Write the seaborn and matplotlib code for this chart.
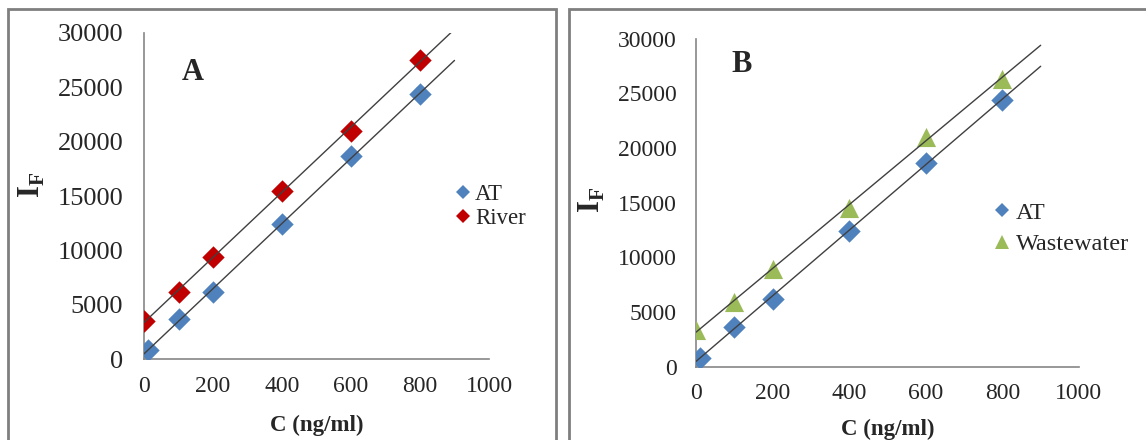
import numpy as np
import pandas as pd
import seaborn as sns
import matplotlib
matplotlib.use('Agg')
import matplotlib.pyplot as plt
from matplotlib.lines import Line2D
from matplotlib.patches import Rectangle

# values
conc_at = [10, 100, 200, 400, 600, 800]
if_at = [825, 3650, 6200, 12430, 18650, 24420]
conc_spiked = [0, 100, 200, 400, 600, 800]
if_river = [3500, 6200, 9400, 15500, 21000, 27550]
if_waste = [3350, 5950, 8900, 14550, 21050, 26350]
err_at = [300, 300, 300, 400, 500, 500]

x_ticks = [0, 200, 400, 600, 800, 1000]
y_ticks = [0, 5000, 10000, 15000, 20000, 25000, 30000]

blue = '#4F81BD'
red = '#C00000'
green = '#9BBB59'
fitcol = '#404040'
spinecol = '#868686'

sns.set_style('white')
plt.rcParams['font.family'] = ['Liberation Serif', 'DejaVu Serif']
plt.rcParams['mathtext.fontset'] = 'custom'
plt.rcParams['mathtext.rm'] = 'Liberation Serif'
plt.rcParams['mathtext.bf'] = 'Liberation Serif:bold'

fig = plt.figure(figsize=(11.46, 4.4), dpi=100)
axA = fig.add_axes([0.1257, 0.184, 0.301, 0.741])
axB = fig.add_axes([0.6073, 0.1666, 0.3342, 0.7455])

# panel frames like the Excel chart areas
for x0, x1 in [(0.007, 0.4852), (0.4965, 1.05)]:
    fig.add_artist(Rectangle((x0, -0.05), x1 - x0, 0.9795 + 0.05,
                             transform=fig.transFigure, fill=False,
                             edgecolor='#7f7f7f', linewidth=2, clip_on=False))

df_at = pd.DataFrame({'C': conc_at, 'If': if_at})
df_river = pd.DataFrame({'C': conc_spiked, 'If': if_river})
df_waste = pd.DataFrame({'C': conc_spiked, 'If': if_waste})


def fit_line(ax, df):
    k, b = np.polyfit(df['C'], df['If'], 1)
    xx = np.array([0, 900])
    ax.plot(xx, k * xx + b, color=fitcol, lw=1, zorder=4)


def style_axes(ax, ysize, xsize, ypad, xpad):
    ax.set_xlim(0, 1000)
    ax.set_ylim(0, 30000)
    ax.set_xticks(x_ticks)
    ax.set_yticks(y_ticks)
    for s in ['top', 'right']:
        ax.spines[s].set_visible(False)
    for s in ['left', 'bottom']:
        ax.spines[s].set_color(spinecol)
        ax.spines[s].set_linewidth(1.2)
    ax.tick_params(axis='y', direction='in', length=6, width=1.2,
                   color=spinecol, labelsize=ysize, pad=ypad)
    ax.tick_params(axis='x', direction='in', length=6, width=1.2,
                   color=spinecol, labelsize=xsize, pad=xpad)
    ax.set_facecolor('white')


# ---- panel A ----
ax = axA
ax.errorbar(conc_at, if_at, yerr=err_at, fmt='none', ecolor='black',
            elinewidth=0.8, capsize=3, zorder=2)
sns.scatterplot(data=df_at, x='C', y='If', ax=ax, marker='D', color=blue,
                s=130, linewidth=0, zorder=3)
sns.scatterplot(data=df_river, x='C', y='If', ax=ax, marker='D', color=red,
                s=130, linewidth=0, zorder=3)
fit_line(ax, df_river)
fit_line(ax, df_at)
style_axes(ax, 19, 17, 15, 12)
ax.set_xlabel('C (ng/ml)', fontsize=16.5, fontweight='bold')
ax.xaxis.set_label_coords(0.5, -0.205)
ax.xaxis.label.set_verticalalignment('center')
ax.set_ylabel(r'$\mathbf{I}_\mathbf{F}$', fontsize=22)
ax.yaxis.set_label_coords(-0.325, 0.534)
ax.yaxis.label.set_verticalalignment('center')
ax.text(142, 26400, 'A', fontsize=22, fontweight='bold', ha='center', va='center')
handles = [Line2D([], [], ls='none', marker='D', color=blue, markersize=6.8, mew=0),
           Line2D([], [], ls='none', marker='D', color=red, markersize=6.8, mew=0)]
ax.legend(handles, ['AT', 'River'], loc='center left',
          bbox_to_anchor=(0.90, 0.469), frameon=False, fontsize=16.5,
          borderpad=0, handlelength=0.7, handletextpad=0.2,
          labelspacing=0.12, borderaxespad=0)

# ---- panel B ----
ax = axB
ax.errorbar(conc_at, if_at, yerr=err_at, fmt='none', ecolor='black',
            elinewidth=0.8, capsize=3, zorder=2)
sns.scatterplot(data=df_at, x='C', y='If', ax=ax, marker='D', color=blue,
                s=130, linewidth=0, zorder=3)
sns.scatterplot(data=df_waste, x='C', y='If', ax=ax, marker='^', color=green,
                s=190, linewidth=0, zorder=3)
fit_line(ax, df_waste)
fit_line(ax, df_at)
style_axes(ax, 17, 17, 14, 12)
ax.set_xlabel('C (ng/ml)', fontsize=16.5, fontweight='bold')
ax.xaxis.set_label_coords(0.5, -0.19)
ax.xaxis.label.set_verticalalignment('center')
ax.set_ylabel(r'$\mathbf{I}_\mathbf{F}$', fontsize=22)
ax.yaxis.set_label_coords(-0.272, 0.508)
ax.yaxis.label.set_verticalalignment('center')
ax.text(120, 27600, 'B', fontsize=22, fontweight='bold', ha='center', va='center')
handles = [Line2D([], [], ls='none', marker='D', color=blue, markersize=6.8, mew=0),
           Line2D([], [], ls='none', marker='^', color=green, markersize=10, mew=0)]
ax.legend(handles, ['AT', 'Wastewater'], loc='center left',
          bbox_to_anchor=(0.778, 0.421), frameon=False, fontsize=17.5,
          borderpad=0, handlelength=0.7, handletextpad=0.2,
          labelspacing=0.4, borderaxespad=0)

fig.savefig('out.png', dpi=100, facecolor='white')
